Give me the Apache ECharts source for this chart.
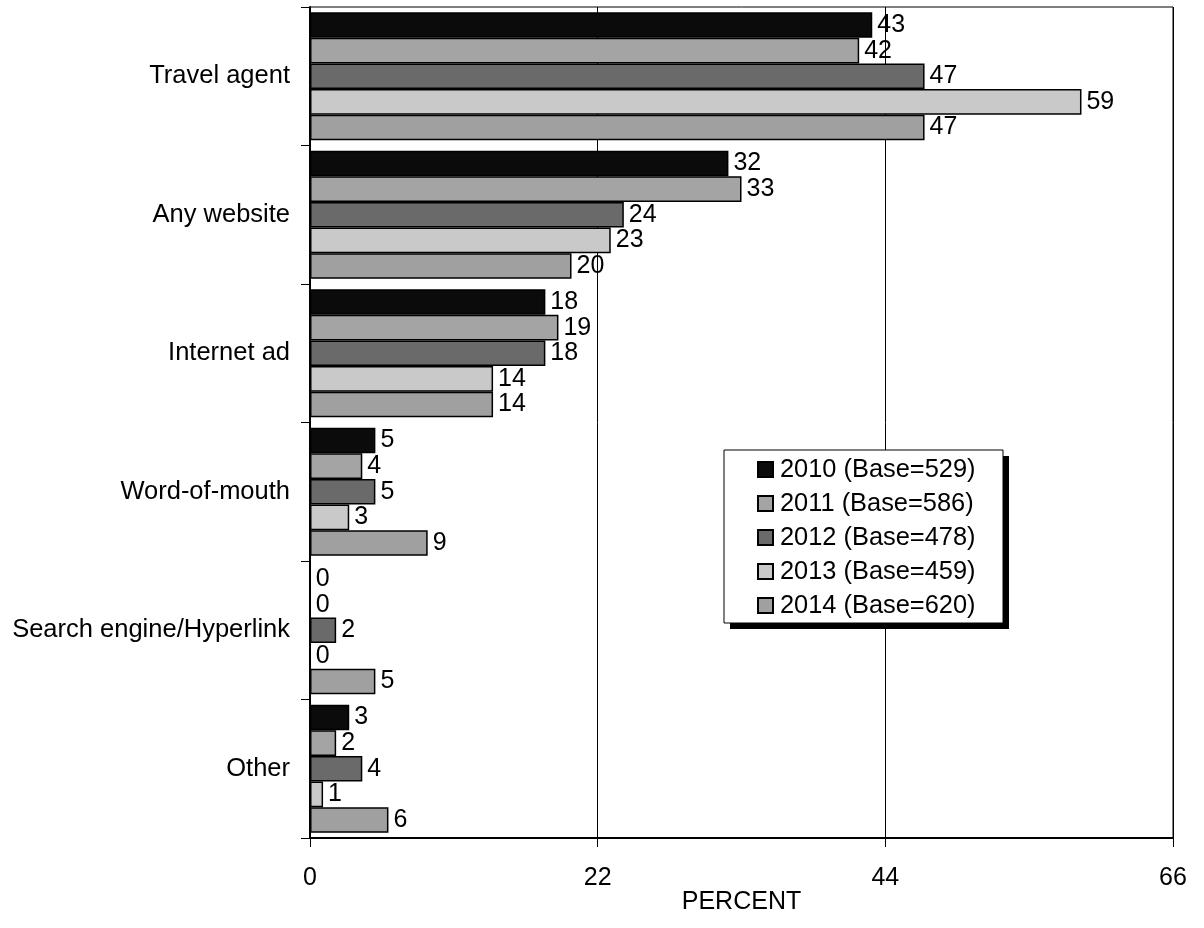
<!DOCTYPE html>
<html><head><meta charset="utf-8">
<script src="https://cdn.jsdelivr.net/npm/echarts@6/dist/echarts.min.js"></script>
<style>html,body{margin:0;padding:0;background:#fff}#c{width:1204px;height:928px}</style>
</head><body><div id="c"></div>
<script>
const categories = ['Travel agent','Any website','Internet ad','Word-of-mouth','Search engine/Hyperlink','Other'];
const seriesNames = ['2010 (Base=529)','2011 (Base=586)','2012 (Base=478)','2013 (Base=459)','2014 (Base=620)'];
const v2010 = [43,32,18,5,0,3];
const v2011 = [42,33,19,4,0,2];
const v2012 = [47,24,18,5,2,4];
const v2013 = [59,23,14,3,0,1];
const v2014 = [47,20,14,9,5,6];
const colors = ['#0b0b0b','#a4a4a4','#6a6a6a','#c9c9c9','#a0a0a0'];
const allVals = [v2010,v2011,v2012,v2013,v2014];
const font = 'Liberation Sans, Arial, sans-serif';
const FS = 25;
const chart = echarts.init(document.getElementById('c'));
chart.setOption({
  animation:false,
  grid:{left:310,right:31,top:7,bottom:90,show:true,borderColor:'#000',borderWidth:1},
  graphic:[
    {type:'rect',z:10,shape:{x:730,y:456,width:279,height:173},style:{fill:'#000'}},
    {type:'rect',z:11,shape:{x:724,y:450,width:279,height:173},style:{fill:'#fff',stroke:'#000',lineWidth:1}}
  ],
  legend:{
    orient:'vertical', left:757, top:457, z:20,
    data:seriesNames,
    padding:0,
    itemWidth:15,itemHeight:15,itemGap:9,
    icon:'rect',
    textStyle:{fontFamily:font,fontSize:25.4,lineHeight:25,color:'#000',padding:[0,0,0,2]}
  },
  xAxis:{
    type:'value',min:0,max:66,interval:22,
    name:'PERCENT',nameLocation:'middle',nameGap:52,nameMoveOverlap:false,
    nameTextStyle:{fontFamily:font,fontSize:FS,color:'#000'},
    axisLine:{show:true,lineStyle:{color:'#000',width:2}},
    axisTick:{show:true,inside:false,length:9,lineStyle:{color:'#000',width:1}},
    axisLabel:{fontFamily:font,fontSize:FS,color:'#000',margin:28},
    splitLine:{show:true,lineStyle:{color:'#000',width:1}}
  },
  yAxis:{
    type:'category',data:categories,inverse:true,
    axisLine:{show:true,lineStyle:{color:'#000',width:2}},
    axisTick:{show:true,length:9,lineStyle:{color:'#000',width:1}},
    axisLabel:{fontFamily:font,fontSize:25.5,color:'#000',margin:20},
    splitLine:{show:false}
  },
  series: seriesNames.map((n,i)=>({
    name:n,type:'bar',data:allVals[i],
    barGap:'0%',barCategoryGap:'7.5%',
    itemStyle:{color:colors[i],borderColor:'#000',borderWidth:1.5},
    label:{show:true,position:'right',distance:5,fontFamily:font,fontSize:FS,color:'#000'}
  }))
});
</script></body></html>
